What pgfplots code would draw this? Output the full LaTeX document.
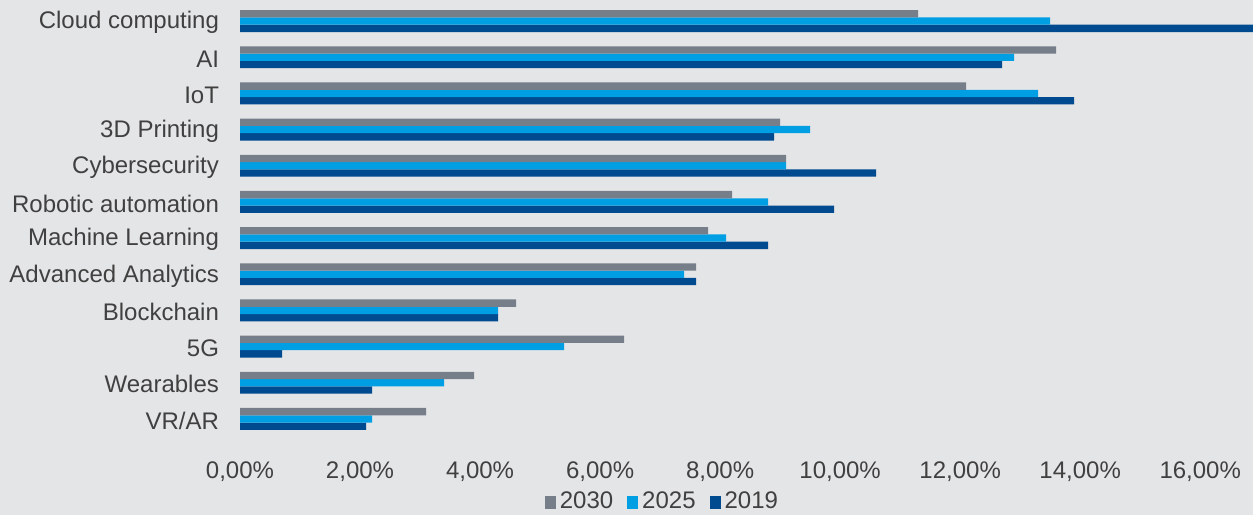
\documentclass[border=0pt]{standalone}
\usepackage{pgfplots}
\pgfplotsset{compat=1.18}
\usepackage{fontspec}
\setmainfont{Liberation Sans}
\definecolor{bg}{RGB}{228,229,231}
\definecolor{cA}{RGB}{118,127,137}
\definecolor{cB}{RGB}{0,159,227}
\definecolor{cC}{RGB}{0,74,143}
\definecolor{txt}{RGB}{64,64,64}
\begin{document}
\begin{tikzpicture}
\fill[bg] (0pt,0pt) rectangle (626.5pt,257.5pt);
\begin{axis}[
  at={(120pt,39pt)}, anchor=south west,
  width=506.5pt, height=217pt, scale only axis,
  xmin=0, xmax=16.88, ymin=-0.5, ymax=11.5,
  y dir=reverse,
  xbar=0pt, bar width=3.65pt,
  axis line style={draw=none}, tick style={draw=none},
  major tick length=0pt,
  ytick={0,...,11},
  yticklabels={Cloud computing,AI,IoT,3D Printing,Cybersecurity,Robotic automation,Machine Learning,Advanced Analytics,Blockchain,5G,Wearables,VR/AR},
  xtick={0,2,...,16},
  xticklabel={\pgfmathprintnumber[fixed,fixed zerofill,precision=2,use comma]{\tick}\%},
  /pgf/number format/assume math mode=true,
  ticklabel style={font=\fontsize{12}{14}\selectfont, text=txt},
  yticklabel style={xshift=-7pt, yshift=-0.8pt},
  xticklabel style={yshift=-9pt},
  legend style={at={(0.418,-0.15)}, anchor=center, draw=none, fill=none,
    legend columns=-1, font=\fontsize{12}{14}\selectfont, text=txt,
    /tikz/every even column/.append style={column sep=5pt}},
  reverse legend,
  legend image code/.code={\fill[#1] (0pt,-3.3pt) rectangle (5.5pt,3.3pt);},
  clip=true,
]
\addplot[fill=cC, draw=none] coordinates {
(17.2,0) (12.7,1) (13.9,2) (8.9,3) (10.6,4) (9.9,5) (8.8,6) (7.6,7) (4.3,8) (0.7,9) (2.2,10) (2.1,11)};
\addplot[fill=cB, draw=none] coordinates {
(13.5,0) (12.9,1) (13.3,2) (9.5,3) (9.1,4) (8.8,5) (8.1,6) (7.4,7) (4.3,8) (5.4,9) (3.4,10) (2.2,11)};
\addplot[fill=cA, draw=none] coordinates {
(11.3,0) (13.6,1) (12.1,2) (9.0,3) (9.1,4) (8.2,5) (7.8,6) (7.6,7) (4.6,8) (6.4,9) (3.9,10) (3.1,11)};
\legend{2019,2025,2030}
\end{axis}
\end{tikzpicture}
\end{document}
